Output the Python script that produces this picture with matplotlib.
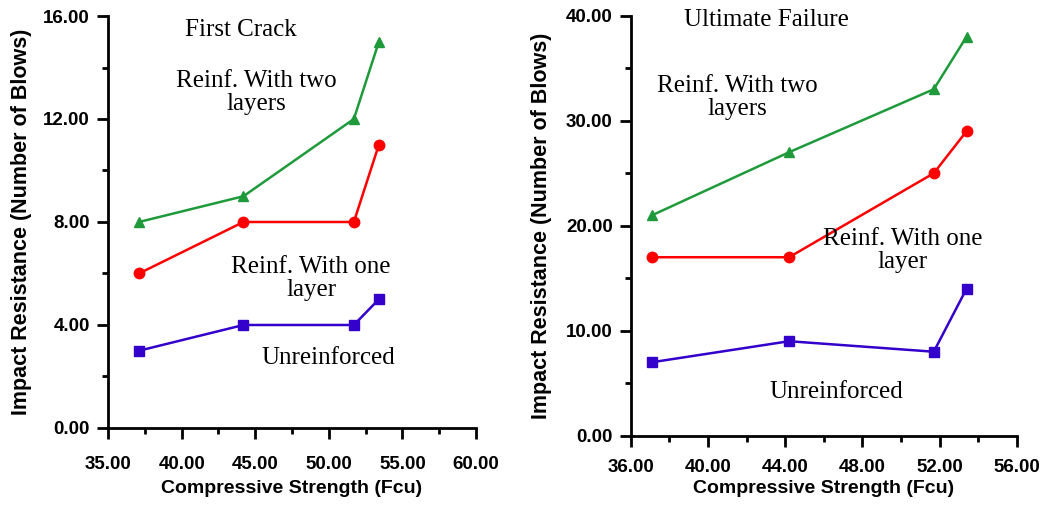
import matplotlib.pyplot as plt
from matplotlib.ticker import MultipleLocator, FormatStrFormatter

# compressive strength (Fcu) of the four mixes
fcu = [37.1, 44.2, 51.7, 53.4]

# first crack blows
fc_two = [8, 9, 12, 15]
fc_one = [6, 8, 8, 11]
fc_unr = [3, 4, 4, 5]

# ultimate failure blows
uf_two = [21, 27, 33, 38]
uf_one = [17, 17, 25, 29]
uf_unr = [7, 9, 8, 14]

GREEN = '#1f9a3b'
RED = '#ff0000'
BLUE = '#3300cc'

plt.rcParams['font.family'] = ['Liberation Sans', 'DejaVu Sans']

fig = plt.figure(figsize=(10.55, 5.08), dpi=100)
ax1 = fig.add_axes([0.1024, 0.1575, 0.3488, 0.811])
ax2 = fig.add_axes([0.598, 0.1423, 0.3657, 0.8267])


def style_axis(ax, xlim, xmaj, ylim, ymaj, xpad, xlpad, ylpad):
    ax.set_xlim(*xlim)
    ax.set_ylim(*ylim)
    for s in ['top', 'right']:
        ax.spines[s].set_visible(False)
    for s in ['left', 'bottom']:
        ax.spines[s].set_linewidth(2.0)
    ax.xaxis.set_major_locator(MultipleLocator(xmaj))
    ax.xaxis.set_minor_locator(MultipleLocator(xmaj / 2))
    ax.yaxis.set_major_locator(MultipleLocator(ymaj))
    ax.yaxis.set_minor_locator(MultipleLocator(ymaj / 2))
    ax.xaxis.set_major_formatter(FormatStrFormatter('%.2f'))
    ax.yaxis.set_major_formatter(FormatStrFormatter('%.2f'))
    ax.tick_params(which='major', direction='out', length=8, width=2, labelsize=13.5, pad=5)
    ax.tick_params(axis='x', which='major', pad=xpad)
    ax.tick_params(which='minor', direction='out', length=4.5, width=2)
    for lab in ax.get_xticklabels() + ax.get_yticklabels():
        lab.set_fontweight('bold')
    ax.set_xlabel('Compressive Strength (Fcu)', fontsize=14, fontweight='bold', labelpad=xlpad)
    ax.set_ylabel('Impact Resistance (Number of Blows)', fontsize=15.5, fontweight='bold', labelpad=ylpad)


def draw_series(ax, two, one, unr):
    ax.plot(fcu, two, color=GREEN, marker='^', markersize=7.5, linewidth=1.8, clip_on=False)
    ax.plot(fcu, one, color=RED, marker='o', markersize=7.5, linewidth=1.8, clip_on=False)
    ax.plot(fcu, unr, color=BLUE, marker='s', markersize=7.5, linewidth=1.8, clip_on=False)


serif = ['Liberation Serif', 'DejaVu Serif']
tkw = dict(family=serif, fontsize=18, ha='center', va='center', linespacing=1.05)

# left panel - first crack
draw_series(ax1, fc_two, fc_one, fc_unr)
style_axis(ax1, (35, 60), 5, (0, 16), 4, 12, 5, 8)
ax1.text(0.361, 0.966, 'First Crack', transform=ax1.transAxes, **tkw)
ax1.text(0.402, 0.814, 'Reinf. With two\nlayers', transform=ax1.transAxes, **tkw)
ax1.text(0.552, 0.363, 'Reinf. With one\nlayer', transform=ax1.transAxes, **tkw)
ax1.text(0.600, 0.170, 'Unreinforced', transform=ax1.transAxes, **tkw)

# right panel - ultimate failure
draw_series(ax2, uf_two, uf_one, uf_unr)
style_axis(ax2, (36, 56), 4, (0, 40), 10, 9, 3, 10)
ax2.text(0.352, 0.99, 'Ultimate Failure', transform=ax2.transAxes, **tkw)
ax2.text(0.276, 0.805, 'Reinf. With two\nlayers', transform=ax2.transAxes, **tkw)
ax2.text(0.705, 0.442, 'Reinf. With one\nlayer', transform=ax2.transAxes, **tkw)
ax2.text(0.533, 0.104, 'Unreinforced', transform=ax2.transAxes, **tkw)

fig.savefig('out.png', dpi=100)
